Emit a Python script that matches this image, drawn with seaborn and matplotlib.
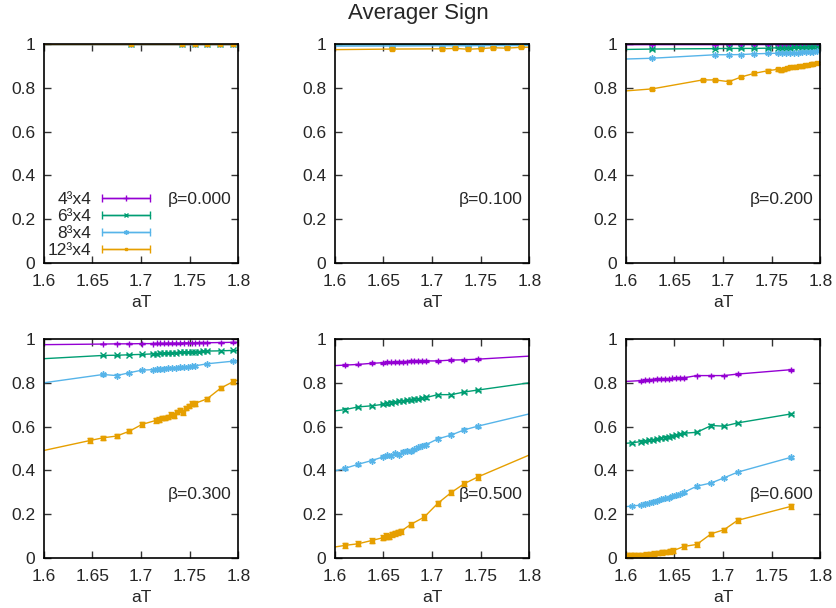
import numpy as np
import pandas as pd
import matplotlib
matplotlib.use("Agg")
import matplotlib.pyplot as plt
import seaborn as sns
from matplotlib.legend_handler import HandlerErrorbar

# ---------------- data ----------------
series_labels = ["4³x4", "6³x4", "8³x4", "12³x4"]
series_colors = ["#9400d3", "#009e73", "#56b4e9", "#e69f00"]
betas = ["0.000", "0.100", "0.200", "0.300", "0.500", "0.600"]
xticks = [1.6, 1.65, 1.7, 1.75, 1.8]
yticks = [0, 0.2, 0.4, 0.6, 0.8, 1.0]
ytick_labels = ["0", "0.2", "0.4", "0.6", "0.8", "1"]

# beta = 0.000
x00 = [1.55, 1.690, 1.742, 1.755, 1.768, 1.781, 1.795, 1.85]
y00 = [1.0, 1.0, 1.0, 1.0, 1.0, 1.0, 1.0, 1.0]

# beta = 0.100
x01 = [1.55, 1.659, 1.710, 1.724, 1.737, 1.750, 1.763, 1.777, 1.791, 1.85]
y01_4 = [0.999, 0.999, 0.999, 0.999, 0.999, 0.999, 0.999, 0.999, 0.999, 0.999]
y01_6 = [0.997, 0.997, 0.997, 0.997, 0.998, 0.998, 0.998, 0.998, 0.998, 0.998]
y01_8 = [0.990, 0.991, 0.992, 0.992, 0.992, 0.993, 0.993, 0.993, 0.993, 0.994]
y01_12 = [0.972, 0.977, 0.978, 0.980, 0.976, 0.979, 0.983, 0.981, 0.985, 0.988]

# beta = 0.200
x02 = [1.55, 1.627, 1.692, 1.706, 1.719, 1.732, 1.746, 1.757, 1.761, 1.765, 1.769,
       1.773, 1.777, 1.781, 1.785, 1.789, 1.793, 1.797, 1.85]
y02_4 = [0.996, 0.997, 0.997, 0.997, 0.997, 0.997, 0.997, 0.998, 0.998, 0.998, 0.998,
         0.998, 0.998, 0.998, 0.998, 0.998, 0.998, 0.998, 0.999]
y02_6 = [0.972, 0.977, 0.979, 0.980, 0.980, 0.980, 0.981, 0.983, 0.983, 0.984, 0.984,
         0.985, 0.985, 0.985, 0.986, 0.986, 0.986, 0.987, 0.990]
y02_8 = [0.925, 0.935, 0.951, 0.951, 0.952, 0.955, 0.957, 0.958, 0.957, 0.959, 0.960,
         0.961, 0.960, 0.962, 0.963, 0.963, 0.964, 0.966, 0.975]
x02_12 = [1.55, 1.627, 1.679, 1.692, 1.706, 1.719, 1.732, 1.746, 1.757, 1.760, 1.763,
          1.766, 1.769, 1.772, 1.775, 1.778, 1.781, 1.784, 1.787, 1.790, 1.793, 1.797, 1.85]
y02_12 = [0.769, 0.795, 0.836, 0.836, 0.828, 0.850, 0.866, 0.878, 0.885, 0.880, 0.884,
          0.889, 0.893, 0.895, 0.896, 0.900, 0.898, 0.903, 0.905, 0.907, 0.910, 0.914, 0.930]

# beta = 0.300
x03_46 = [1.55, 1.661, 1.675, 1.688, 1.701, 1.712, 1.716, 1.720, 1.724, 1.728, 1.732,
          1.736, 1.740, 1.744, 1.748, 1.752, 1.756, 1.760, 1.764, 1.768, 1.782, 1.795, 1.85]
y03_4 = [0.972, 0.977, 0.978, 0.978, 0.979, 0.979, 0.980, 0.980, 0.980, 0.981, 0.981,
         0.981, 0.981, 0.982, 0.982, 0.982, 0.982, 0.983, 0.983, 0.983, 0.984, 0.985, 0.987]
y03_6 = [0.898, 0.925, 0.926, 0.928, 0.930, 0.932, 0.933, 0.934, 0.935, 0.936, 0.937,
         0.938, 0.939, 0.940, 0.940, 0.941, 0.942, 0.943, 0.944, 0.945, 0.946, 0.948, 0.955]
x03_8 = [1.55, 1.661, 1.675, 1.688, 1.701, 1.712, 1.716, 1.720, 1.724, 1.728, 1.732,
         1.736, 1.740, 1.744, 1.748, 1.752, 1.755, 1.768, 1.795, 1.85]
y03_8 = [0.769, 0.838, 0.833, 0.846, 0.858, 0.860, 0.862, 0.861, 0.865, 0.866, 0.868,
         0.867, 0.870, 0.872, 0.874, 0.875, 0.877, 0.887, 0.899, 0.910]
x03_12 = [1.55, 1.648, 1.661, 1.675, 1.688, 1.701, 1.715, 1.719, 1.722, 1.725, 1.728,
          1.731, 1.734, 1.737, 1.740, 1.743, 1.746, 1.749, 1.752, 1.755, 1.768, 1.782, 1.795, 1.85]
y03_12 = [0.443, 0.537, 0.549, 0.557, 0.579, 0.610, 0.628, 0.632, 0.640, 0.638, 0.645,
          0.655, 0.650, 0.668, 0.675, 0.665, 0.685, 0.695, 0.705, 0.705, 0.727, 0.776, 0.806, 0.870]

# beta = 0.500
x05 = [1.55, 1.611, 1.624, 1.638, 1.650, 1.654, 1.658, 1.662, 1.666, 1.670, 1.674,
       1.678, 1.682, 1.686, 1.690, 1.694, 1.706, 1.720, 1.733, 1.747, 1.85]
y05_4 = [0.868, 0.881, 0.884, 0.889, 0.892, 0.894, 0.893, 0.895, 0.896, 0.896, 0.897,
         0.898, 0.898, 0.899, 0.900, 0.900, 0.900, 0.904, 0.905, 0.908, 0.935]
y05_6 = [0.643, 0.678, 0.690, 0.695, 0.702, 0.706, 0.710, 0.712, 0.716, 0.718, 0.720,
         0.722, 0.725, 0.727, 0.730, 0.733, 0.746, 0.746, 0.758, 0.767, 0.831]
y05_8 = [0.340, 0.410, 0.428, 0.445, 0.462, 0.470, 0.468, 0.478, 0.472, 0.485, 0.490,
         0.488, 0.497, 0.505, 0.512, 0.518, 0.544, 0.562, 0.585, 0.602, 0.711]
x05_12 = [1.55, 1.611, 1.624, 1.638, 1.650, 1.653, 1.656, 1.659, 1.662, 1.665, 1.668,
          1.678, 1.692, 1.706, 1.720, 1.733, 1.747, 1.85]
y05_12 = [0.015, 0.058, 0.065, 0.080, 0.093, 0.100, 0.097, 0.108, 0.112, 0.118, 0.122,
          0.153, 0.187, 0.250, 0.300, 0.339, 0.370, 0.565]

# beta = 0.600
x06_4 = [1.55, 1.616, 1.620, 1.624, 1.628, 1.632, 1.636, 1.640, 1.644, 1.648, 1.652,
         1.656, 1.660, 1.673, 1.688, 1.701, 1.715, 1.770]
y06_4 = [0.795, 0.810, 0.812, 0.814, 0.815, 0.816, 0.817, 0.818, 0.818, 0.820, 0.821,
         0.822, 0.823, 0.833, 0.833, 0.833, 0.840, 0.860]
x06_68 = [1.55, 1.606, 1.616, 1.620, 1.624, 1.628, 1.632, 1.636, 1.640, 1.644, 1.648,
          1.652, 1.656, 1.660, 1.673, 1.688, 1.701, 1.715, 1.770]
y06_6 = [0.505, 0.526, 0.532, 0.535, 0.538, 0.540, 0.545, 0.548, 0.550, 0.553, 0.556,
         0.560, 0.565, 0.570, 0.574, 0.605, 0.602, 0.617, 0.658]
y06_8 = [0.215, 0.237, 0.242, 0.248, 0.252, 0.257, 0.262, 0.268, 0.272, 0.276, 0.282,
         0.286, 0.292, 0.300, 0.328, 0.343, 0.366, 0.392, 0.460]
x06_12 = [1.55, 1.601, 1.605, 1.609, 1.613, 1.617, 1.621, 1.625, 1.629, 1.633, 1.637,
          1.641, 1.645, 1.649, 1.660, 1.673, 1.688, 1.701, 1.715, 1.770]
y06_12 = [0.005, 0.012, 0.013, 0.013, 0.014, 0.015, 0.016, 0.018, 0.020, 0.024, 0.026,
          0.028, 0.030, 0.034, 0.053, 0.062, 0.111, 0.129, 0.172, 0.236]

# typical statistical error of each lattice size, per beta
err_by_beta = [
    [0.0005, 0.0005, 0.0005, 0.0005],
    [0.001, 0.001, 0.002, 0.004],
    [0.002, 0.003, 0.004, 0.006],
    [0.002, 0.003, 0.005, 0.010],
    [0.004, 0.005, 0.007, 0.012],
    [0.004, 0.005, 0.006, 0.010],
]

panels = [
    [(x00, y00), (x00, y00), (x00, y00), (x00, y00)],
    [(x01, y01_4), (x01, y01_6), (x01, y01_8), (x01, y01_12)],
    [(x02, y02_4), (x02, y02_6), (x02, y02_8), (x02_12, y02_12)],
    [(x03_46, y03_4), (x03_46, y03_6), (x03_8, y03_8), (x03_12, y03_12)],
    [(x05, y05_4), (x05, y05_6), (x05, y05_8), (x05_12, y05_12)],
    [(x06_4, y06_4), (x06_68, y06_6), (x06_68, y06_8), (x06_12, y06_12)],
]

# ---------------- style ----------------
sns.set_theme(style="ticks")
plt.rcParams["font.family"] = ["Liberation Sans", "DejaVu Sans"]
FS = 12.5

series_markers = ["+", "x", (6, 2, 0), "s"]
series_msizes = [5, 4, 4.5, 3]

fig, axes = plt.subplots(2, 3, figsize=(8.36, 6.08), dpi=100)
fig.subplots_adjust(left=0.0523, right=0.9812, top=0.9276, bottom=0.0822,
                    wspace=0.4957, hspace=0.347)

for k, ax in enumerate(axes.flat):
    for s in range(4):
        xs, ys = panels[k][s]
        df = pd.DataFrame({"aT": xs, "sign": ys})
        sns.lineplot(data=df, x="aT", y="sign", ax=ax, color=series_colors[s],
                     marker=series_markers[s], markersize=series_msizes[s], linewidth=1.0,
                     estimator=None, sort=False, markeredgewidth=1.0,
                     markeredgecolor=series_colors[s], legend=False)
        ax.errorbar(xs, ys, yerr=err_by_beta[k][s], fmt="none",
                    ecolor=series_colors[s], elinewidth=1.0, capsize=2.5, capthick=1.0)
    ax.set_xlim(1.6, 1.8)
    ax.set_ylim(0, 1)
    ax.set_xticks(xticks)
    ax.set_xticklabels([f"{t:g}" for t in xticks])
    ax.set_yticks(yticks)
    ax.set_yticklabels(ytick_labels)
    ax.tick_params(direction="in", length=5, width=1, top=True, right=True,
                   labelsize=FS, color="#333333")
    ax.tick_params(axis="x", pad=8)
    ax.tick_params(axis="y", pad=6)
    for sp in ax.spines.values():
        sp.set_visible(True)
        sp.set_linewidth(1.2)
        sp.set_color("black")
    ax.set_xlabel("aT", fontsize=FS, labelpad=4)
    ax.set_ylabel("")
    ax.text(0.967, 0.29, "β=" + betas[k], transform=ax.transAxes,
            ha="right", va="center", fontsize=FS)

# legend in the first panel
ax0 = axes[0, 0]
handles = []
for s in range(4):
    h = ax0.errorbar([np.nan], [np.nan], xerr=[1.0], fmt="-",
                     color=series_colors[s], marker=series_markers[s],
                     markersize=series_msizes[s] - 1,
                     linewidth=1.0, elinewidth=1.0, capsize=3, capthick=1.0)
    handles.append(h)
leg = ax0.legend(handles, series_labels, loc="lower left",
                 bbox_to_anchor=(0.02, 0.021), frameon=False, markerfirst=False,
                 fontsize=FS, handlelength=2.8, handletextpad=0.6,
                 labelspacing=0.12, borderpad=0, borderaxespad=0,
                 handler_map={type(handles[0]): HandlerErrorbar(xerr_size=1.4)})
for t in leg.get_texts():
    t.set_ha("right")

fig.suptitle("Averager Sign", fontsize=16, y=0.995, va="top")

fig.savefig("out.png", dpi=100)
